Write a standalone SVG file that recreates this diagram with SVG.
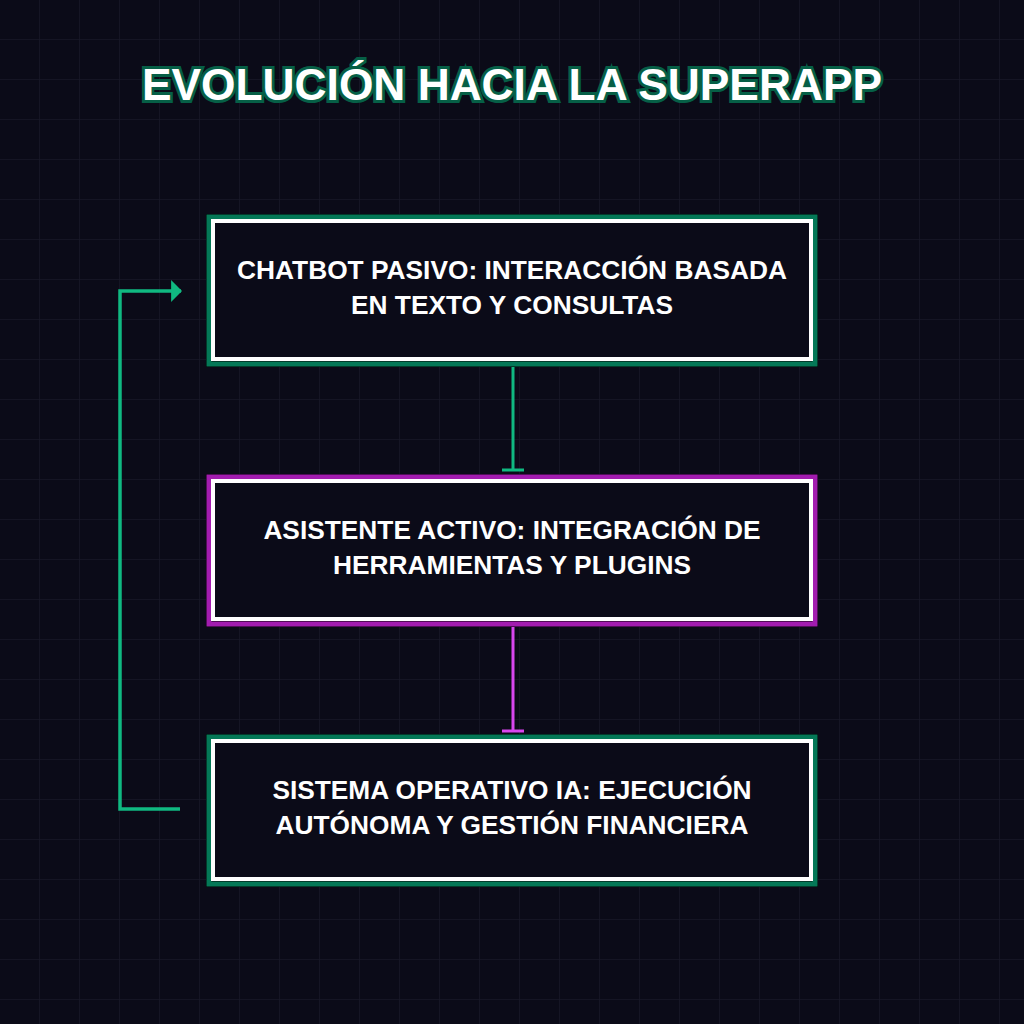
<svg xmlns="http://www.w3.org/2000/svg" width="1024" height="1024" viewBox="0 0 1024 1024">
<defs>
<pattern id="grid" width="40" height="40" patternUnits="userSpaceOnUse"><path d="M40 0V40M0 40H40" fill="none" stroke="#181828" stroke-width="1.5"/></pattern>
<marker id="arr" viewBox="0 0 10 20" refX="9" refY="10" markerUnits="userSpaceOnUse" markerWidth="11" markerHeight="22" orient="auto"><path d="M0 0L10 10L0 20z" fill="#10b981"/></marker>
</defs>
<style>
.t{font-family:"Liberation Sans",Arial,sans-serif;font-weight:bold;fill:#fff;text-anchor:middle}
.lbl{font-size:26.3px}
.inner{fill:#0b0b18;stroke:#fff;stroke-width:4}
</style>
<rect width="1024" height="1024" fill="#0b0b18"/>
<rect width="1024" height="1024" fill="url(#grid)"/>
<text class="t" x="512" y="100" font-size="44.3" stroke="#065f46" stroke-width="6" paint-order="stroke" fill="#f0fdf4">EVOLUCIÓN HACIA LA SUPERAPP</text>
<g id="connectors" fill="none" stroke-width="3">
<path d="M513 360V470M502 470H524" stroke="#10b981"/>
<path d="M513 620V731M502 731H524" stroke="#d946ef"/>
<path d="M180 809H120V291H181" stroke="#10b981" stroke-width="3.5" marker-end="url(#arr)"/>
</g>
<g id="n1">
<rect x="206" y="214" width="612" height="153" fill="#000"/>
<rect x="209" y="217" width="606" height="147" fill="none" stroke="#047857" stroke-width="5"/>
<rect x="213" y="221" width="598" height="138" class="inner"/>
<text class="t lbl" x="512" y="279">CHATBOT PASIVO: INTERACCIÓN BASADA</text>
<text class="t lbl" x="512" y="314">EN TEXTO Y CONSULTAS</text>
</g>
<g id="n2">
<rect x="206" y="474" width="612" height="153" fill="#000"/>
<rect x="209" y="477" width="606" height="147" fill="none" stroke="#a21caf" stroke-width="5"/>
<rect x="213" y="481" width="598" height="138" class="inner"/>
<text class="t lbl" x="512" y="539">ASISTENTE ACTIVO: INTEGRACIÓN DE</text>
<text class="t lbl" x="512" y="574">HERRAMIENTAS Y PLUGINS</text>
</g>
<g id="n3">
<rect x="206" y="734" width="612" height="153" fill="#000"/>
<rect x="209" y="737" width="606" height="147" fill="none" stroke="#047857" stroke-width="5"/>
<rect x="213" y="741" width="598" height="138" class="inner"/>
<text class="t lbl" x="512" y="799">SISTEMA OPERATIVO IA: EJECUCIÓN</text>
<text class="t lbl" x="512" y="834">AUTÓNOMA Y GESTIÓN FINANCIERA</text>
</g>
</svg>
